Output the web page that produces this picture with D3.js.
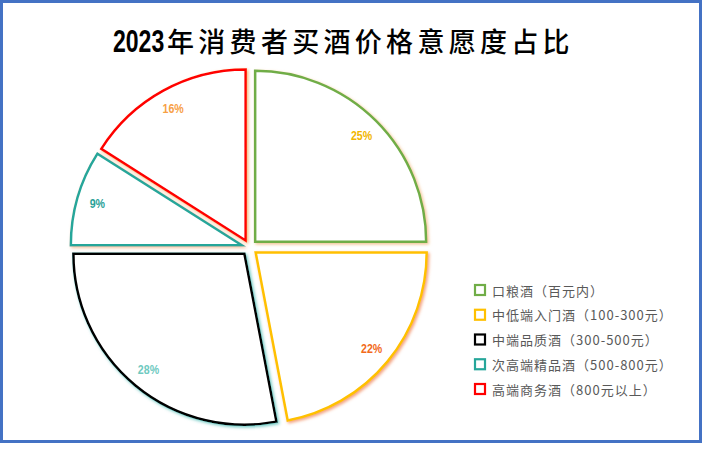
<!DOCTYPE html>
<html>
<head>
<meta charset="utf-8">
<script src="https://cdn.jsdelivr.net/npm/d3@7"></script>
<style>
    html, body { margin: 0; padding: 0; background: #fff; }
</style>
</head>
<body>
<div id="chart"></div>
<script>
const WIDTH = 702;
const HEIGHT = 452;

// ---------------------------- data ----------------------------
const categories = ["口粮酒（百元内）", "中低端入门酒（100-300元）", "中端品质酒（300-500元）", "次高端精品酒（500-800元）", "高端商务酒（800元以上）"];
const shares = [25, 22, 28, 9, 16];
const sliceColors = ["#70ad47", "#ffc000", "#000000", "#26a69a", "#ff0000"];
const glowColors = ["#f0b070", "#f08050", "#40b8b0", "#f0b080", "#f0a050"];
const labelColors = ["#f2b600", "#f26a1b", "#6fcac1", "#2aa198", "#f7a044"];
const titleYear = "2023";
const titleRest = "年消费者买酒价格意愿度占比";

const svg = d3.select("#chart")
    .append("svg")
    .attr("width", WIDTH)
    .attr("height", HEIGHT);

// ---------------------------- frame ----------------------------
svg.append("rect")
    .attr("x", 1.5)
    .attr("y", 1.5)
    .attr("width", WIDTH - 3)
    .attr("height", 440)
    .attr("fill", "#fff")
    .attr("stroke", "#4472c4")
    .attr("stroke-width", 3);

// ---------------------------- title ----------------------------
// the year is drawn in a narrow bold face, squeezed horizontally
svg.append("text")
    .attr("transform", "translate(113,52) scale(0.72,1)")
    .attr("fill", "#000")
    .style("font-family", "'Liberation Sans', Arial, sans-serif")
    .style("font-weight", 700)
    .style("font-size", "32px")
    .text(titleYear);

svg.append("text")
    .attr("x", 167)
    .attr("y", 52)
    .attr("fill", "#000")
    .style("font-family", "'Noto Sans CJK SC', sans-serif")
    .style("font-weight", 500)
    .style("font-size", "27px")
    .style("letter-spacing", "4.3px")
    .text(titleRest);

// ---------------------------- glow filters ----------------------------
const defs = svg.append("defs");
glowColors.forEach((c, i) => {
    defs.append("filter")
        .attr("id", `glow${i}`)
        .attr("x", "-20%").attr("y", "-20%")
        .attr("width", "140%").attr("height", "140%")
        .append("feDropShadow")
        .attr("dx", 1.5)
        .attr("dy", 1.5)
        .attr("stdDeviation", 1.8)
        .attr("flood-color", c)
        .attr("flood-opacity", 0.75);
});

// ---------------------------- pie ----------------------------
const cx = 249.5, cy = 247.5;
const radius = 171;
const explode = 8;

const pie = d3.pie().sort(null).value(d => d);
const arcs = pie(shares);
const arc = d3.arc().innerRadius(0).outerRadius(radius);
const labelArc = d3.arc().innerRadius(radius * 0.88).outerRadius(radius * 0.88);

const g = svg.append("g").attr("transform", `translate(${cx},${cy})`);

const slices = g.selectAll("g.slice")
    .data(arcs)
    .enter()
    .append("g")
    .attr("class", "slice")
    .attr("transform", d => {
        const mid = (d.startAngle + d.endAngle) / 2;
        return `translate(${explode * Math.sin(mid)},${-explode * Math.cos(mid)})`;
    });

slices.append("path")
    .attr("d", arc)
    .attr("fill", "#fff")
    .attr("stroke", (d, i) => sliceColors[i])
    .attr("stroke-width", 2.5)
    .attr("stroke-linejoin", "miter")
    .attr("filter", (d, i) => `url(#glow${i})`);

slices.append("text")
    .attr("transform", d => `translate(${labelArc.centroid(d)}) scale(0.85,1)`)
    .attr("text-anchor", "middle")
    .attr("dominant-baseline", "central")
    .attr("fill", (d, i) => labelColors[i])
    .style("font-family", "'Liberation Sans', Arial, sans-serif")
    .style("font-weight", 700)
    .style("font-size", "12.5px")
    .text(d => `${d.data}%`);

// ---------------------------- legend ----------------------------
const legendY = d3.scalePoint()
    .domain(categories)
    .range([290, 389]);

const legend = svg.append("g")
    .selectAll("g")
    .data(categories)
    .enter()
    .append("g")
    .attr("transform", d => `translate(474,${legendY(d)})`);

legend.append("rect")
    .attr("x", 1)
    .attr("y", -5)
    .attr("width", 10)
    .attr("height", 10)
    .attr("fill", "#fff")
    .attr("stroke", (d, i) => sliceColors[i])
    .attr("stroke-width", 2.2);

legend.append("text")
    .attr("x", 18)
    .attr("dominant-baseline", "central")
    .attr("fill", "#595959")
    .style("font-family", "'Noto Sans CJK SC', sans-serif")
    .style("font-size", "13px")
    .style("letter-spacing", "1px")
    .text(d => d);
</script>
</body>
</html>
